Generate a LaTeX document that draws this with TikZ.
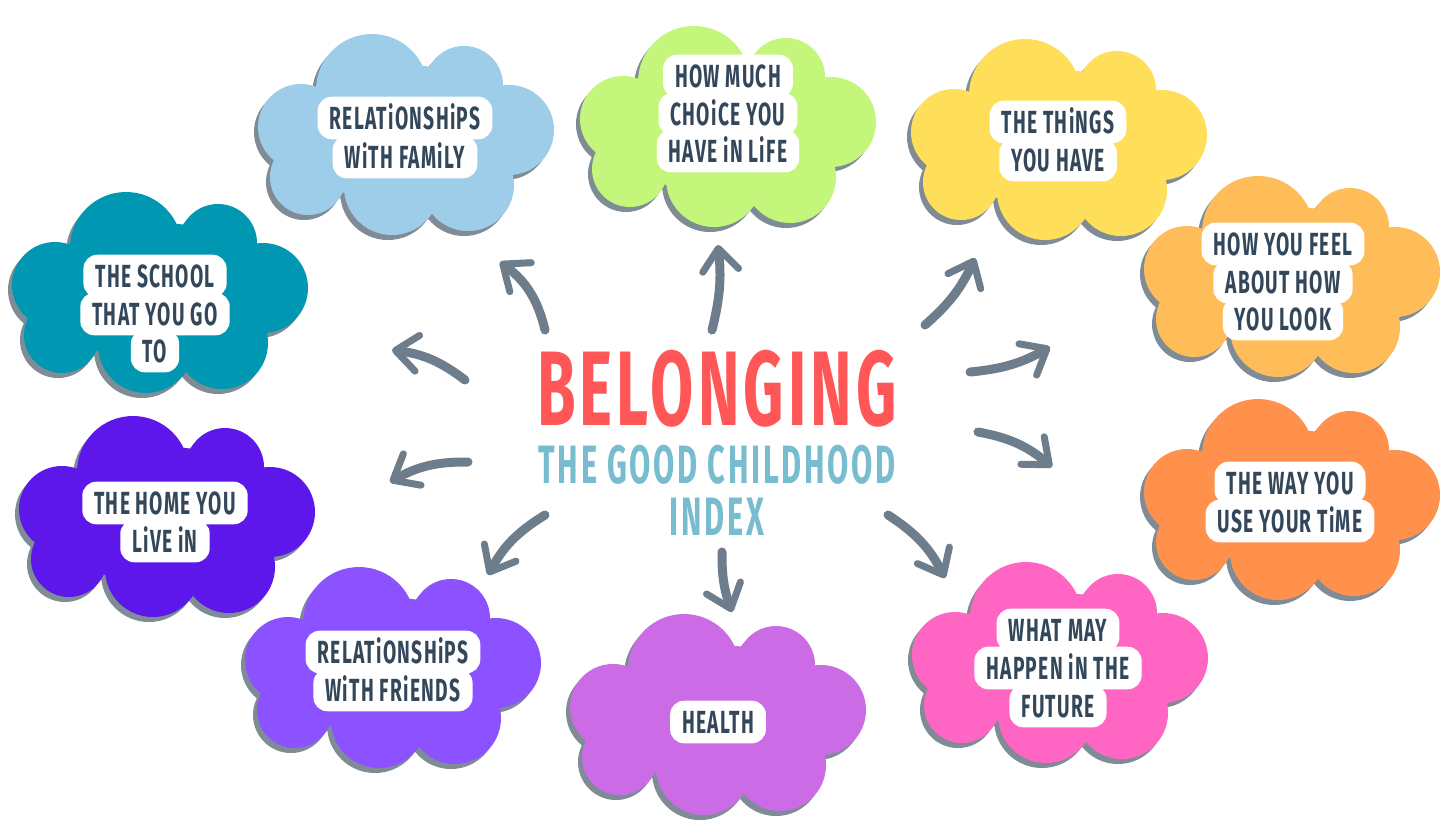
\documentclass[tikz,border=0pt]{standalone}
\usepackage{fontspec}
\setmainfont{Fira Sans}
\newfontfamily\labelfont[FakeStretch=0.6,LetterSpace=4]{Fira Sans}
\newfontfamily\titlefont[FakeStretch=0.59,LetterSpace=4]{Fira Sans}
\newfontfamily\subfont[FakeStretch=0.57,LetterSpace=5]{Fira Sans}
\usetikzlibrary{arrows.meta}
\definecolor{famblue}{HTML}{9DCDE8}
\definecolor{choicelime}{HTML}{C4F67B}
\definecolor{thingsyellow}{HTML}{FFDE59}
\definecolor{feelorange}{HTML}{FFBD59}
\definecolor{timeorange}{HTML}{FF914D}
\definecolor{futurepink}{HTML}{FF66C4}
\definecolor{healthpurple}{HTML}{CB6CE6}
\definecolor{friendsviolet}{HTML}{8C52FF}
\definecolor{homeindigo}{HTML}{5E17EB}
\definecolor{schoolteal}{HTML}{0097B2}
\definecolor{cloudshadow}{HTML}{7F8C96}
\definecolor{arrowgrey}{HTML}{6E7D8B}
\definecolor{labeltext}{HTML}{33475B}
\definecolor{belred}{HTML}{FF5757}
\definecolor{subblue}{HTML}{78BCD0}
\tikzset{
  cloud/.pic={
    \fill[cloudshadow,shift={(-4,5)}] (-34,-45) circle[radius=56] (58,-50) circle[radius=39]
      (103,-5) circle[radius=45] (62,50) circle[radius=46] (-14,52) circle[radius=48]
      (-98,42) circle[radius=38] (-105,-8) circle[radius=43] (0,0) ellipse[x radius=110,y radius=70];
    \fill[pic actions] (-34,-45) circle[radius=56] (58,-50) circle[radius=39]
      (103,-5) circle[radius=45] (62,50) circle[radius=46] (-14,52) circle[radius=48]
      (-98,42) circle[radius=38] (-105,-8) circle[radius=43] (0,0) ellipse[x radius=110,y radius=70];
  },
  lbl/.style={fill=white, rounded corners=7pt, text=labeltext,
    font=\labelfont\bfseries\fontsize{16}{16}\selectfont,
    inner xsep=6pt, inner ysep=5pt, text height=11.3pt, text depth=0pt},
  brush/.style={draw=arrowgrey, line width=4.5pt, line cap=round,
    -{Straight Barb[length=11pt,width=18pt,line width=3.5pt,round]}},
  titletext/.style={inner sep=0pt, text depth=0pt}
}
\begin{document}
\begin{tikzpicture}[x=0.5pt,y=-0.5pt]
\fill[white] (0,0) rectangle (1450,827);
\useasboundingbox (0,0) rectangle (1450,827);

% clouds
\pic[fill=famblue] at (406,135) {cloud};
\pic[fill=choicelime] at (728,127) {cloud};
\pic[fill=thingsyellow] at (1059,140) {cloud};
\pic[fill=feelorange] at (1292,277) {cloud};
\pic[fill=timeorange] at (1292,500) {cloud};
\pic[fill=futurepink] at (1060,663) {cloud};
\pic[fill=healthpurple] at (718,715) {cloud};
\pic[fill=friendsviolet] at (393,668) {cloud};
\pic[fill=homeindigo] at (167,517) {cloud};
\pic[fill=schoolteal] at (160,293) {cloud};

% labels
\node[lbl] (fam1) at (405,118) {RELATiONSHiPS};
\node[lbl] (fam2) at (405,157) {WiTH FAMiLY};
\node[lbl] (cho1) at (728,76) {HOW MUCH};
\node[lbl] (cho2) at (728,114) {CHOiCE YOU};
\node[lbl] (cho3) at (728,151) {HAVE iN LiFE};
\node[lbl] (thi1) at (1058,122) {THE THiNGS};
\node[lbl] (thi2) at (1058,160) {YOU HAVE};
\node[lbl] (fee1) at (1283,244) {HOW YOU FEEL};
\node[lbl] (fee2) at (1283,282) {ABOUT HOW};
\node[lbl] (fee3) at (1283,319) {YOU LOOK};
\node[lbl] (tim1) at (1290,483) {THE WAY YOU};
\node[lbl] (tim2) at (1290,521) {USE YOUR TiME};
\node[lbl] (fut1) at (1058,630) {WHAT MAY};
\node[lbl] (fut2) at (1058,668) {HAPPEN iN THE};
\node[lbl] (fut3) at (1058,706) {FUTURE};
\node[lbl] (hea1) at (718,722) {HEALTH};
\node[lbl] (fri1) at (393,652) {RELATiONSHiPS};
\node[lbl] (fri2) at (393,690) {WiTH FRiENDS};
\node[lbl] (hom1) at (165,503) {THE HOME YOU};
\node[lbl] (hom2) at (165,541) {LiVE iN};
\node[lbl] (sch1) at (155,276) {THE SCHOOL};
\node[lbl] (sch2) at (155,314) {THAT YOU GO};
\node[lbl] (sch3) at (155,351) {TO};

% title
\node[titletext, text height=38pt, text=belred, font=\titlefont\bfseries\fontsize{53}{53}\selectfont] (title) at (717,387) {BELONGING};
\node[titletext, text height=19pt, text=subblue, font=\subfont\bfseries\fontsize{27}{27}\selectfont] (sub1) at (717,464) {THE GOOD CHILDHOOD};
\node[titletext, text height=19pt, text=subblue, font=\subfont\bfseries\fontsize{27}{27}\selectfont] (sub2) at (717,516) {INDEX};

% arrows
\coordinate (a1s) at (545,330);  \coordinate (a1e) at (500,262);
\coordinate (a2s) at (712,330);  \coordinate (a2e) at (718,245);
\coordinate (a3s) at (925,325);  \coordinate (a3e) at (975,258);
\coordinate (a4s) at (970,372);  \coordinate (a4e) at (1050,347);
\coordinate (a5s) at (978,432);  \coordinate (a5e) at (1052,467);
\coordinate (a6s) at (888,515);  \coordinate (a6e) at (945,578);
\coordinate (a7s) at (722,552);  \coordinate (a7e) at (732,612);
\coordinate (a8s) at (545,515);  \coordinate (a8e) at (488,575);
\coordinate (a9s) at (468,462);  \coordinate (a9e) at (390,482);
\coordinate (a10s) at (465,380); \coordinate (a10e) at (392,350);
\draw[brush] (a1s) to[bend right=20] (a1e);
\draw[brush] (a2s) to[bend right=10] (a2e);
\draw[brush] (a3s) to[bend right=12] (a3e);
\draw[brush] (a4s) to[bend right=12] (a4e);
\draw[brush] (a5s) to[bend left=15] (a5e);
\draw[brush] (a6s) to[bend left=15] (a6e);
\draw[brush] (a7s) to[bend right=10] (a7e);
\draw[brush] (a8s) to[bend right=15] (a8e);
\draw[brush] (a9s) to[bend right=15] (a9e);
\draw[brush] (a10s) to[bend right=15] (a10e);
\end{tikzpicture}
\end{document}
